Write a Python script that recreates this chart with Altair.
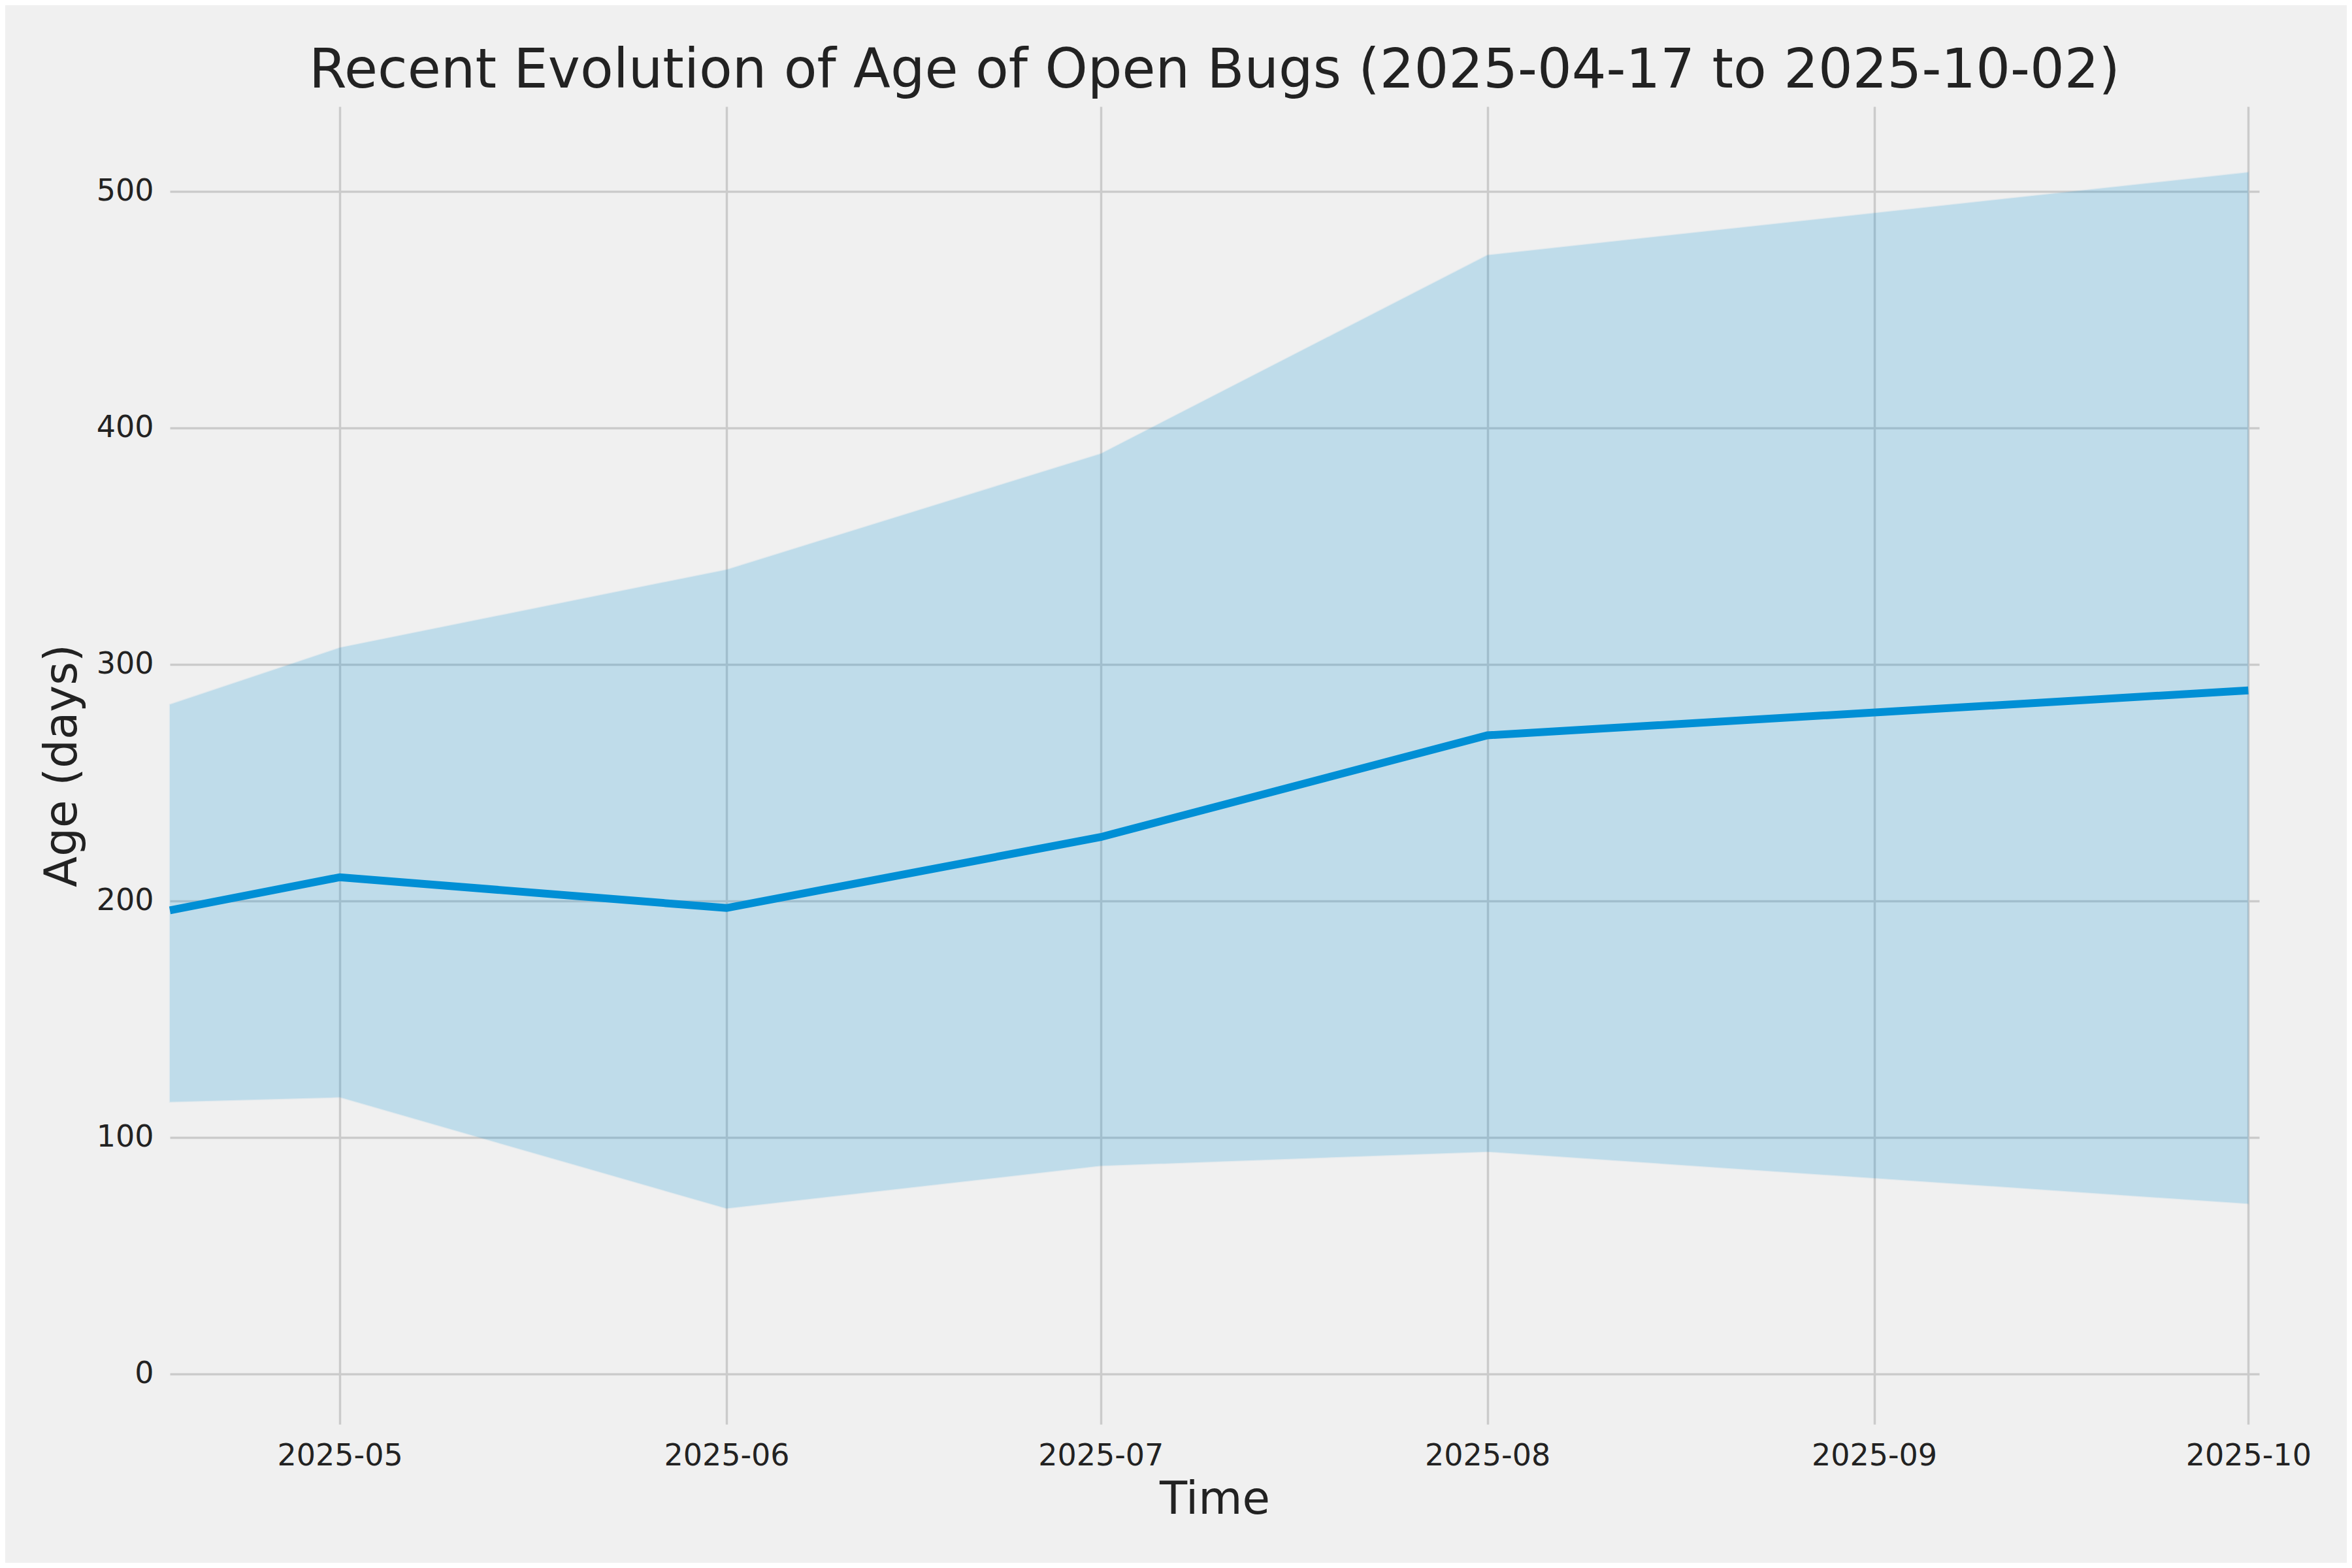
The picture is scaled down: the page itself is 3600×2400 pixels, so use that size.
import altair as alt
import pandas as pd

dates = ["2025-04-17T09:00:00Z", "2025-05-01T00:00:00Z", "2025-06-01T00:00:00Z",
         "2025-07-01T00:00:00Z", "2025-08-01T00:00:00Z", "2025-10-01T00:00:00Z"]
median_age = [196, 210, 197, 227, 270, 289]
upper_age = [283, 307, 340, 389, 473, 508]
lower_age = [115, 117, 70, 88, 94, 72]
tick_months = [5, 6, 7, 8, 9, 10]
y_ticks = [0, 100, 200, 300, 400, 500]

df = pd.DataFrame({"date": dates, "median": median_age, "upper": upper_age, "lower": lower_age})

FONT = "DejaVu Sans"
BLUE = "#008fd5"

xscale = alt.Scale(type="utc", domain=[alt.DateTime(year=2025, month=4, date=17, hours=9, utc=True),
                                       alt.DateTime(year=2025, month=10, date=1, hours=21, utc=True)])
xaxis = alt.Axis(values=[alt.DateTime(year=2025, month=m, date=1, utc=True) for m in tick_months],
                 labelExpr="utcFormat(datum.value, '%Y-%m')", labelLimit=1000,
                 title="Time", grid=True, labelPadding=26, titlePadding=10)
yaxis = alt.Axis(values=y_ticks, title="Age (days)", grid=True, labelPadding=25, titlePadding=17)

base = alt.Chart(df)

band = base.mark_area(color=BLUE, opacity=0.2, stroke=BLUE, strokeOpacity=0.3, strokeWidth=2.5).encode(
    x=alt.X("date:T", scale=xscale, axis=xaxis),
    y=alt.Y("lower:Q", scale=alt.Scale(domain=[-21.3, 535.9], nice=False, zero=False), axis=yaxis),
    y2="upper:Q",
)

line = base.mark_line(color=BLUE, strokeWidth=12).encode(
    x=alt.X("date:T", scale=xscale),
    y=alt.Y("median:Q"),
)

chart = (band + line).properties(
    width=3198,
    height=2017,
    background="#f0f0f0",
    autosize=alt.AutoSizeParams(type="none"),
    padding={"left": 252, "top": 155, "right": 134, "bottom": 212},
    title=alt.TitleParams("Recent Evolution of Age of Open Bugs (2025-04-17 to 2025-10-02)",
                          font=FONT, fontSize=83, fontWeight="normal", color="#222222",
                          anchor="middle", offset=12),
).configure_view(stroke=None, fill="#f0f0f0").configure_axis(
    domain=False, ticks=False, gridColor="#cbcbcb", gridWidth=3.5,
    labelFont=FONT, labelFontSize=46, labelColor="#222222",
    titleFont=FONT, titleFontSize=69, titleFontWeight="normal", titleColor="#222222",
)

chart.save("out.html", embed_options={"renderer": "svg", "actions": False})
